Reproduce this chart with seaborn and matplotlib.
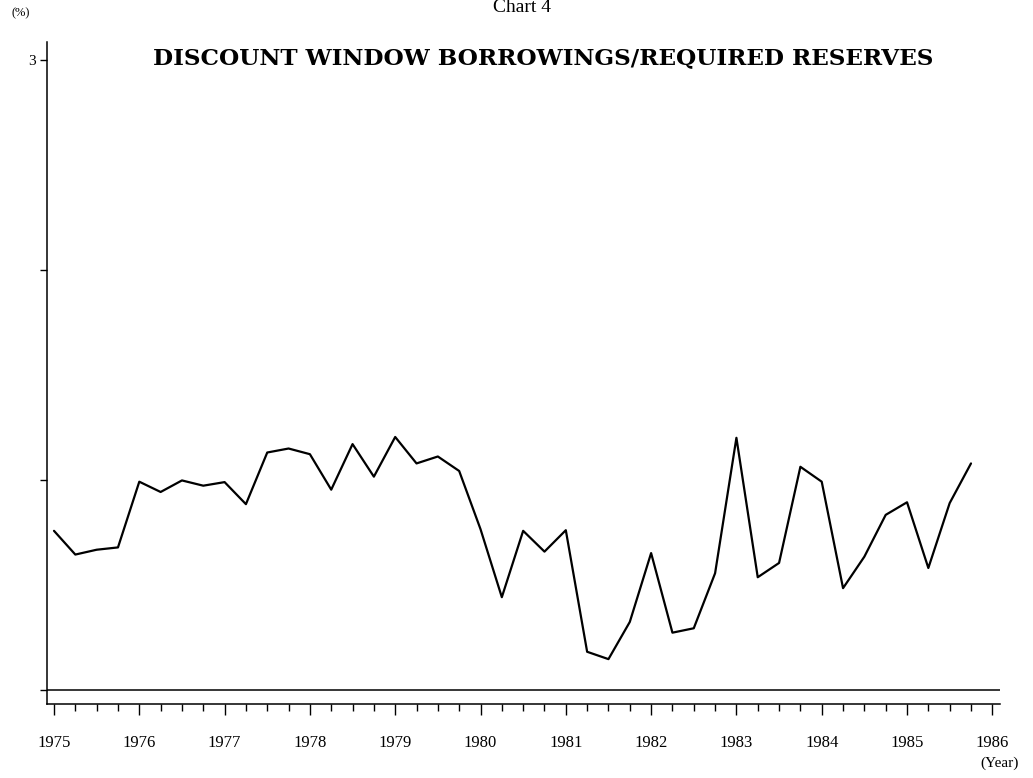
import numpy as np
import pandas as pd
import matplotlib
matplotlib.use("Agg")
import matplotlib.pyplot as plt
import seaborn as sns

# ---- data ----
years = list(range(1975, 1986))
quarters = [1, 2, 3, 4]
ratio = [0.758, 0.645, 0.668, 0.679, 0.992, 0.943, 0.998, 0.973, 0.990, 0.885,
         1.131, 1.150, 1.123, 0.954, 1.171, 1.016, 1.205, 1.079, 1.112, 1.043,
         0.766, 0.442, 0.758, 0.659, 0.761, 0.182, 0.147, 0.324, 0.652, 0.273,
         0.294, 0.556, 1.201, 0.537, 0.605, 1.063, 0.992, 0.485, 0.635, 0.834,
         0.894, 0.581, 0.890, 1.079]
year_ticks = list(range(1975, 1987))
ytick_vals = [0, 1, 2, 3]
ytick_labels = ["", "", "", "3"]

time = [y + (q - 1) / 4 for y in years for q in quarters]
df = pd.DataFrame({"time": time, "ratio": ratio})

sns.set_style("white")
plt.rcParams["font.family"] = ["Liberation Serif", "DejaVu Serif"]
plt.rcParams["text.color"] = "black"
plt.rcParams["xtick.color"] = "black"
plt.rcParams["ytick.color"] = "black"
plt.rcParams["xtick.labelcolor"] = "black"
plt.rcParams["ytick.labelcolor"] = "black"

W, H = 1033, 778
fig = plt.figure(figsize=(W / 100, H / 100), dpi=100)
ax = fig.add_axes([47 / W, 1 - 704 / H, (1000 - 47) / W, (704 - 42) / H])

sns.lineplot(data=df, x="time", y="ratio", ax=ax, color="black", linewidth=1.6,
             sort=False)
ax.axhline(0, color="black", linewidth=1.1)

ax.set_xlim(1974.918, 1986.09)
ax.set_ylim(-0.0667, 3.086)

for s in ["top", "right"]:
    ax.spines[s].set_visible(False)
for s in ["left", "bottom"]:
    ax.spines[s].set_color("black")
    ax.spines[s].set_linewidth(1.1)

ax.set_xticks(year_ticks)
ax.set_xticklabels([str(y) for y in year_ticks], fontsize=12, color="black")
ax.set_xticks([y + q / 4 for y in years for q in (1, 2, 3)], minor=True)
ax.tick_params(axis="x", which="major", direction="out", length=8, width=1.0,
               color="black", pad=14, bottom=True)
ax.tick_params(axis="x", which="minor", direction="out", length=5, width=1.0,
               color="black", bottom=True)
ax.set_yticks(ytick_vals)
ax.set_yticklabels(ytick_labels, fontsize=11, color="black")
ax.tick_params(axis="y", direction="out", length=5, width=1.0, color="black",
               pad=3, left=True)
ax.set_xlabel("")
ax.set_ylabel("")
ax.grid(False)

fig.text(522 / W, 1 - 8 / H, "Chart 4", ha="center", va="center", fontsize=14,
         color="black")
fig.text(543 / W, 1 - 58 / H, "DISCOUNT WINDOW BORROWINGS/REQUIRED RESERVES",
         ha="center", va="center", fontsize=16.7, fontweight="bold",
         family=["DejaVu Serif"], color="black")
fig.text(21 / W, 1 - 13 / H, "(%)", ha="center", va="center", fontsize=9,
         color="black")
fig.text(1000 / W, 1 - 763 / H, "(Year)", ha="center", va="center", fontsize=11,
         color="black")

fig.savefig("out.png", dpi=100)
